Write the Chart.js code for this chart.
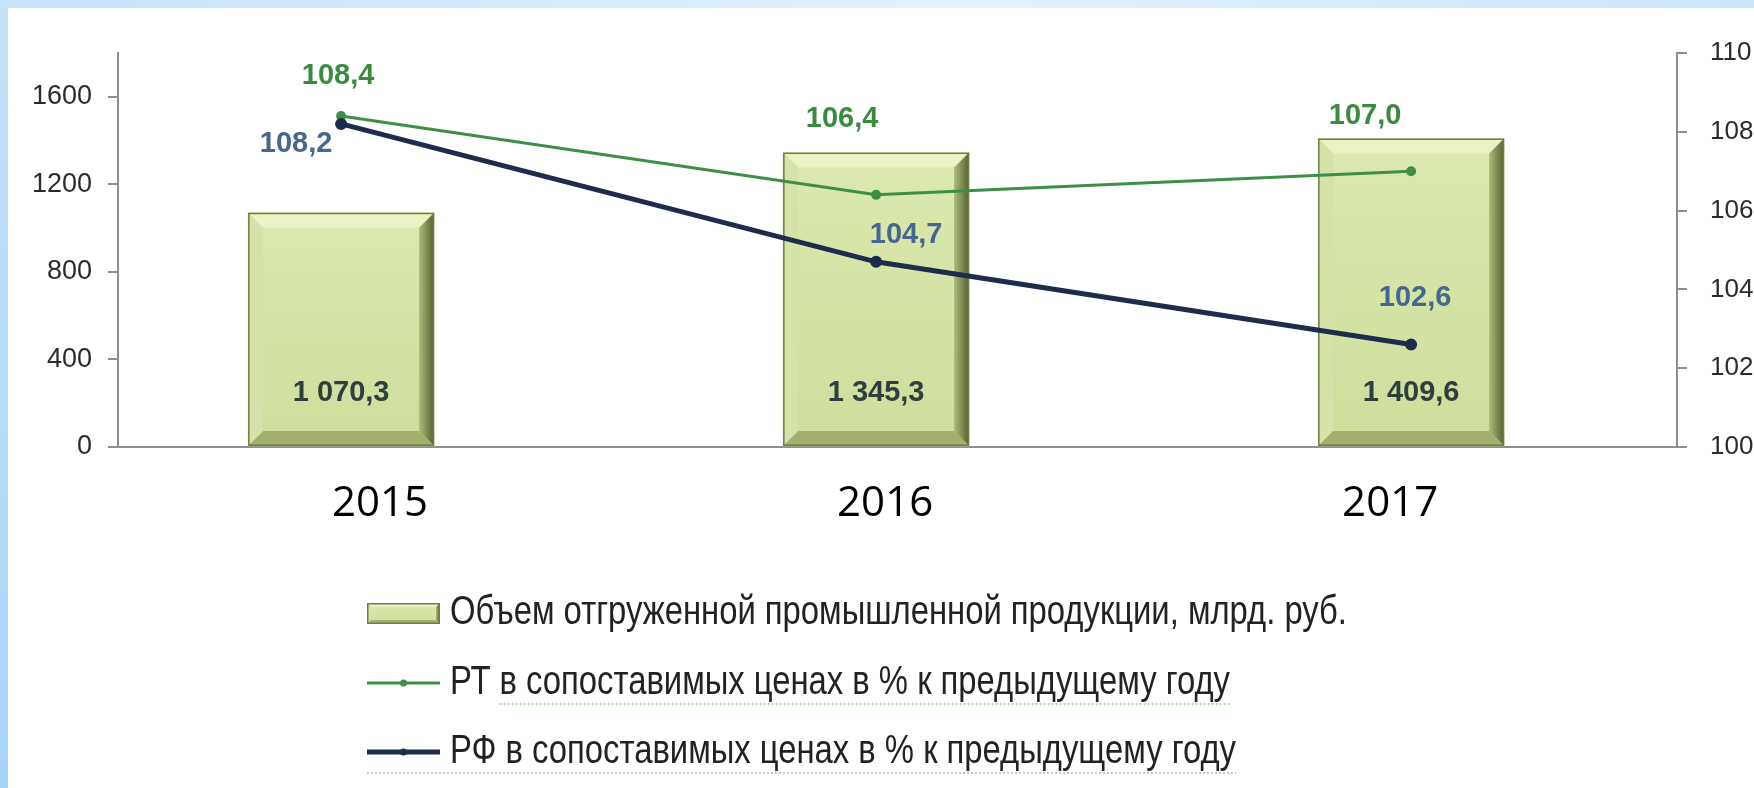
<!DOCTYPE html>
<html lang="ru">
<head>
<meta charset="utf-8">
<title>Объем отгруженной промышленной продукции</title>
<script src="https://cdn.jsdelivr.net/npm/chart.js@4.4.1/dist/chart.umd.min.js"></script>
<style>
  html, body { margin: 0; padding: 0; background: #fff; }
  body { width: 1754px; height: 788px; position: relative; overflow: hidden; }
  .frame-left { position: absolute; left: 0; top: 0; width: 8px; height: 788px; background: linear-gradient(to bottom, #c6e3fa, #a9d3f5); }
  .frame-top { position: absolute; left: 0; top: 0; width: 1754px; height: 8px; background: linear-gradient(to right, #c6e3fa, #e2f1fd 55%, #cbe6fb); }
  #wrap { position: absolute; left: 0; top: 0; width: 1754px; height: 788px; }
</style>
</head>
<body>
<div class="frame-left"></div>
<div class="frame-top"></div>
<div id="wrap"><canvas id="chart"></canvas></div>
<script>
// данные
const years = ['2015', '2016', '2017'];
const shipped = [1070.3, 1345.3, 1409.6];   // млрд. руб.
const rtIndex = [108.4, 106.4, 107.0];       // РТ, % к предыдущему году
const rfIndex = [108.2, 104.7, 102.6];       // РФ, % к предыдущему году
const leftTicks = [0, 400, 800, 1200, 1600];
const rightTicks = [100, 102, 104, 106, 108, 110];

const SANS = '"Liberation Sans", Arial, sans-serif';
const NARROW_K = 0.82;   // "узкий" шрифт: сжимаем Arial по горизонтали

function fmt(v) {
    const [i, d] = v.toFixed(1).split('.');
    return i.replace(/\B(?=(\d{3})+(?!\d))/g, ' ') + ',' + d;
}

function poly(ctx, pts, fill) {
    ctx.beginPath();
    ctx.moveTo(pts[0][0], pts[0][1]);
    for (let k = 1; k < pts.length; k++) ctx.lineTo(pts[k][0], pts[k][1]);
    ctx.closePath();
    ctx.fillStyle = fill;
    ctx.fill();
}

// столбик с "фаской" как в Excel
function bevelBox(ctx, x0, y0, x1, y1, b) {
    const face = ctx.createLinearGradient(0, y0, 0, y1);
    face.addColorStop(0, '#dce9b0');
    face.addColorStop(1, '#cedd9b');
    ctx.fillStyle = face;
    ctx.fillRect(x0, y0, x1 - x0, y1 - y0);
    poly(ctx, [[x0, y0], [x1, y0], [x1 - b, y0 + b], [x0 + b, y0 + b]], '#eaf2c6');
    poly(ctx, [[x0, y0], [x0 + b, y0 + b], [x0 + b, y1 - b], [x0, y1]], '#d6e3a8');
    const rg = ctx.createLinearGradient(x1 - b, 0, x1, 0);
    rg.addColorStop(0, '#aebb7a');
    rg.addColorStop(1, '#56622f');
    poly(ctx, [[x1, y0], [x1, y1], [x1 - b, y1 - b], [x1 - b, y0 + b]], rg);
    poly(ctx, [[x0, y1], [x1, y1], [x1 - b, y1 - b], [x0 + b, y1 - b]], '#a3b06d');
    ctx.strokeStyle = '#6f7c45';
    ctx.lineWidth = 1.5;
    ctx.strokeRect(x0 + 0.75, y0 + 0.75, x1 - x0 - 1.5, y1 - y0 - 1.5);
}

const bevelBars = {
    id: 'bevelBars',
    afterDatasetDraw(chart, args) {
        if (args.meta.type !== 'bar') return;
        const ctx = chart.ctx;
        ctx.save();
        args.meta.data.forEach(el => {
            const x0 = el.x - el.width / 2;
            bevelBox(ctx, x0, el.y, x0 + el.width, el.base, 15);
        });
        ctx.restore();
    }
};

const valueLabels = {
    id: 'valueLabels',
    afterDatasetsDraw(chart, args, o) {
        const ctx = chart.ctx;
        ctx.save();
        ctx.textAlign = 'center';
        ctx.textBaseline = 'middle';
        ctx.font = 'bold ' + o.fontSize + 'px ' + SANS;
        chart.data.datasets.forEach((ds, di) => {
            const meta = chart.getDatasetMeta(di);
            const offs = o.offsets[di];
            ctx.fillStyle = o.colors[di];
            meta.data.forEach((el, i) => {
                const txt = fmt(ds.data[i].y);
                if (meta.type === 'bar') {
                    ctx.fillText(txt, el.x, el.base + offs[1]);
                } else {
                    ctx.fillText(txt, el.x + offs[i][0], el.y + offs[i][1]);
                }
            });
        });
        ctx.restore();
    }
};

const rowLegend = {
    id: 'rowLegend',
    afterDraw(chart, args, o) {
        const ctx = chart.ctx;
        ctx.save();
        ctx.font = o.fontSize + 'px ' + SANS;
        ctx.textBaseline = 'middle';
        chart.data.datasets.forEach((ds, i) => {
            const y = o.rowY[i];
            const x0 = o.x, x1 = o.x + o.swatch;
            if (ds.type === 'bar') {
                bevelBox(ctx, x0, y - 10, x1, y + 11, 4);
            } else {
                ctx.strokeStyle = ds.borderColor;
                ctx.lineWidth = ds.borderWidth;
                ctx.beginPath();
                ctx.moveTo(x0, y);
                ctx.lineTo(x1, y);
                ctx.stroke();
                ctx.fillStyle = ds.borderColor;
                ctx.beginPath();
                ctx.arc((x0 + x1) / 2, y, 3.5, 0, Math.PI * 2);
                ctx.fill();
            }
            const w = ctx.measureText(ds.label).width * NARROW_K;
            ctx.fillStyle = '#222';
            ctx.fillText(ds.label, o.textX, y, w);
            if (ds.type !== 'bar') {
                // волнистое подчёркивание, как на исходном слайде
                const start = i === 1 ? o.textX + ctx.measureText('РТ ').width * NARROW_K : x0;
                ctx.strokeStyle = '#9ccc94';
                ctx.lineWidth = 1.5;
                ctx.setLineDash([2, 2]);
                ctx.beginPath();
                ctx.moveTo(start, y + 21);
                ctx.lineTo(o.textX + w, y + 21);
                ctx.stroke();
                ctx.setLineDash([]);
            }
        });
        ctx.restore();
    }
};

const toPoints = arr => arr.map((v, i) => ({ x: i, y: v }));

const ctx = document.getElementById('chart').getContext('2d');
new Chart(ctx, {
    data: {
        datasets: [
            {
                type: 'bar',
                label: 'Объем отгруженной промышленной продукции, млрд. руб.',
                data: toPoints(shipped),
                backgroundColor: '#d4e3a2',
                borderWidth: 0,
                barThickness: 186,
                xAxisID: 'x',
                yAxisID: 'y',
                order: 3
            },
            {
                type: 'line',
                label: 'РТ в сопоставимых ценах в % к предыдущему году',
                data: toPoints(rtIndex),
                borderColor: '#3e8f46',
                backgroundColor: '#3e8f46',
                borderWidth: 3,
                pointRadius: 3.5,
                pointHoverRadius: 4,
                xAxisID: 'x',
                yAxisID: 'y1',
                order: 2
            },
            {
                type: 'line',
                label: 'РФ в сопоставимых ценах в % к предыдущему году',
                data: toPoints(rfIndex),
                borderColor: '#1d2c4c',
                backgroundColor: '#1d2c4c',
                borderWidth: 5,
                pointRadius: 3.5,
                pointHoverRadius: 4,
                xAxisID: 'x',
                yAxisID: 'y1',
                order: 1
            }
        ]
    },
    options: {
        responsive: true,
        maintainAspectRatio: false,
        animation: false,
        layout: { padding: { left: 8, right: 0, top: 53, bottom: 251 } },
        plugins: {
            legend: { display: false },
            title: { display: false },
            tooltip: { enabled: false },
            valueLabels: {
                fontSize: 29,
                colors: ['#2f3e3f', '#3a8a40', '#46688f'],
                offsets: [
                    [0, -53],
                    [[-3, -40], [-34, -76], [-46, -55]],
                    [[-45, 20], [30, -27], [4, -47]]
                ]
            },
            rowLegend: { x: 367, swatch: 73, textX: 450, fontSize: 40, rowY: [613, 683, 752] }
        },
        scales: {
            x: {
                type: 'linear',
                display: false,
                offset: false,
                min: -0.417,
                max: 2.497
            },
            x2: {
                type: 'linear',
                position: 'bottom',
                offset: false,
                min: -0.519,
                max: 2.568,
                afterBuildTicks: s => { s.ticks = years.map((_, i) => ({ value: i })); },
                ticks: {
                    callback: v => years[v],
                    font: { family: '"Open Sans", sans-serif', size: 42 },
                    color: '#000',
                    padding: 24,
                    maxRotation: 0
                },
                grid: { display: false },
                border: { display: true, color: '#8e8e8e', width: 2 },
                afterFit: s => { s.height = 90; }
            },
            y: {
                position: 'left',
                min: 0,
                max: 1800,
                afterBuildTicks: s => { s.ticks = leftTicks.map(v => ({ value: v })); },
                ticks: {
                    callback: v => String(v),
                    font: { family: SANS, size: 27 },
                    color: '#2b2b2b',
                    padding: 16
                },
                grid: { drawOnChartArea: false, tickLength: 10, color: '#8e8e8e', lineWidth: 2 },
                border: { color: '#8e8e8e', width: 2 },
                afterFit: s => { s.width = 110; }
            },
            y1: {
                position: 'right',
                min: 100,
                max: 110,
                afterBuildTicks: s => { s.ticks = rightTicks.map(v => ({ value: v })); },
                ticks: {
                    callback: v => String(v),
                    font: { family: SANS, size: 26 },
                    color: '#2b2b2b',
                    padding: 23
                },
                grid: { drawOnChartArea: false, tickLength: 10, color: '#8e8e8e', lineWidth: 2 },
                border: { color: '#8e8e8e', width: 2 },
                afterFit: s => { s.width = 77; }
            }
        }
    },
    plugins: [bevelBars, valueLabels, rowLegend]
});
</script>
</body>
</html>
